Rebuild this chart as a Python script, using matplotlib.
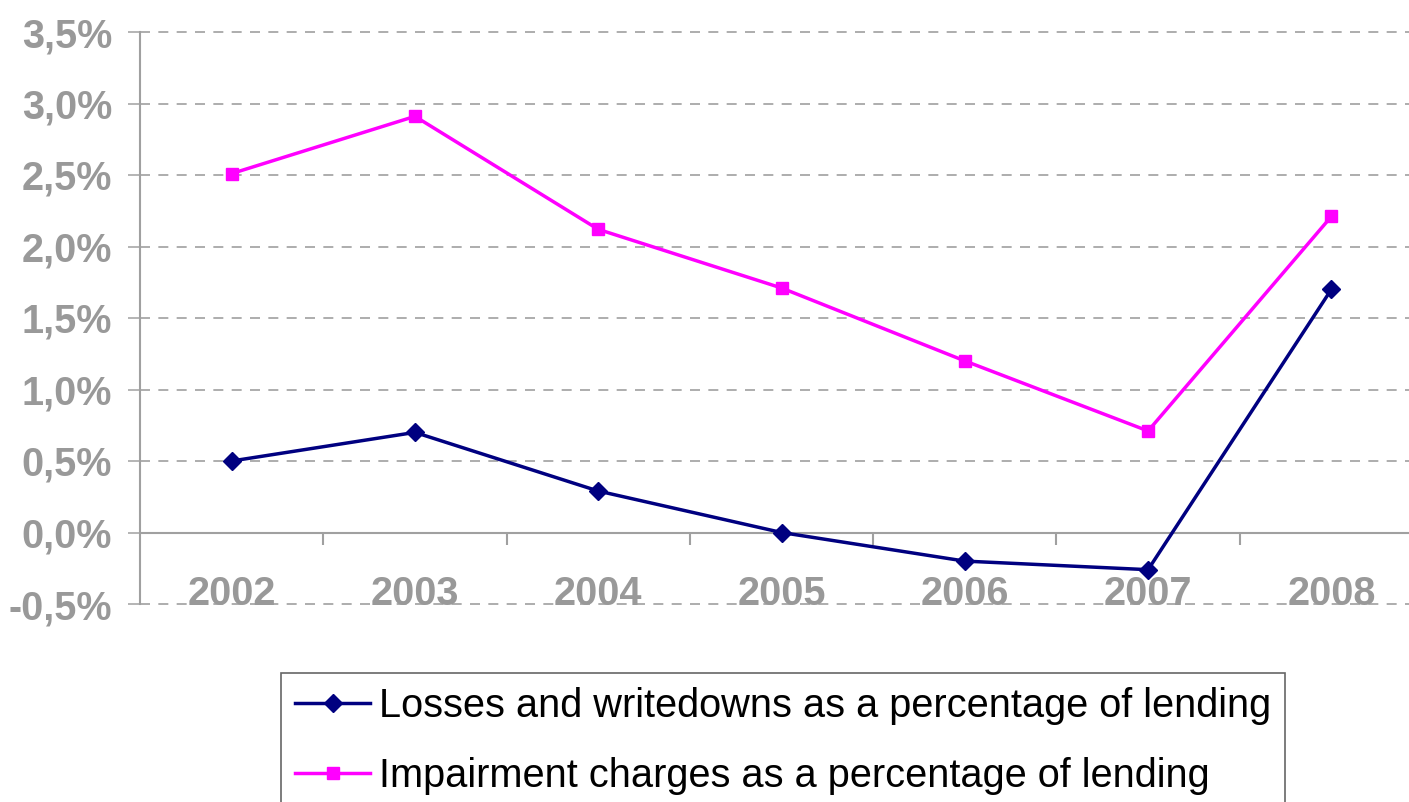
import matplotlib.pyplot as plt
import numpy as np

plt.rcParams["font.family"] = ["Liberation Sans", "DejaVu Sans"]

years = ["2002", "2003", "2004", "2005", "2006", "2007", "2008"]
losses = [0.50, 0.70, 0.29, 0.00, -0.20, -0.26, 1.70]
impairment = [2.51, 2.91, 2.12, 1.71, 1.20, 0.71, 2.21]
y_ticks = [-0.5, 0.0, 0.5, 1.0, 1.5, 2.0, 2.5, 3.0, 3.5]
y_labels = ["-0,5%", "0,0%", "0,5%", "1,0%", "1,5%", "2,0%", "2,5%", "3,0%", "3,5%"]

GREY = "#a0a0a0"
LABEL_GREY = "#999999"

W, H = 1409, 802
fig = plt.figure(figsize=(W / 100, H / 100), dpi=100)
ax = fig.add_axes([140 / W, 1 - 604 / H, (1423 - 140) / W, (604 - 32) / H])

x = np.arange(len(years))

# dashed gridlines, solid zero line
for yv in y_ticks:
    if yv == 0:
        continue
    ax.axhline(yv, color=GREY, lw=1.2, ls=(0, (6, 5)), zorder=1, clip_on=False)
ax.axhline(0, color=GREY, lw=1.5, zorder=1)

# category boundary ticks hanging from the zero line
ax.vlines(x[:-1] + 0.5, -0.085, 0, color=GREY, lw=1.5, zorder=1)

ax.plot(x, losses, color="#000080", lw=2.5, marker="D", ms=9,
        label="Losses and writedowns as a percentage of lending", zorder=4)
ax.plot(x, impairment, color="#ff00ff", lw=2.5, marker="s", ms=8.5,
        label="Impairment charges as a percentage of lending", zorder=3)

ax.set_xlim(-0.5, len(years) - 0.5)
ax.set_ylim(-0.5, 3.5)

for spine in ["top", "right", "bottom"]:
    ax.spines[spine].set_visible(False)
ax.spines["left"].set_color(GREY)
ax.spines["left"].set_linewidth(1.5)

ax.set_xticks([])
ax.set_yticks(y_ticks)
ax.set_yticklabels(y_labels, fontsize=28.5, fontweight="bold", color=LABEL_GREY)
ax.tick_params(axis="y", length=8.6, width=1.1, color=GREY, pad=11.5, direction="out")

for xi, yr in zip(x, years):
    ax.text(xi, -0.505, yr, ha="center", va="baseline", fontsize=28.5,
            fontweight="bold", color=LABEL_GREY, zorder=2)

leg = fig.legend(loc="upper left", bbox_to_anchor=(281 / W, 1 - 673 / H),
                 borderaxespad=0, fontsize=28.6, frameon=True, fancybox=False,
                 handlelength=1.9, handletextpad=0.22, borderpad=0.35,
                 labelspacing=0.8, edgecolor="#404040")
leg.get_frame().set_linewidth(1.2)

fig.savefig("out.png", dpi=100)
